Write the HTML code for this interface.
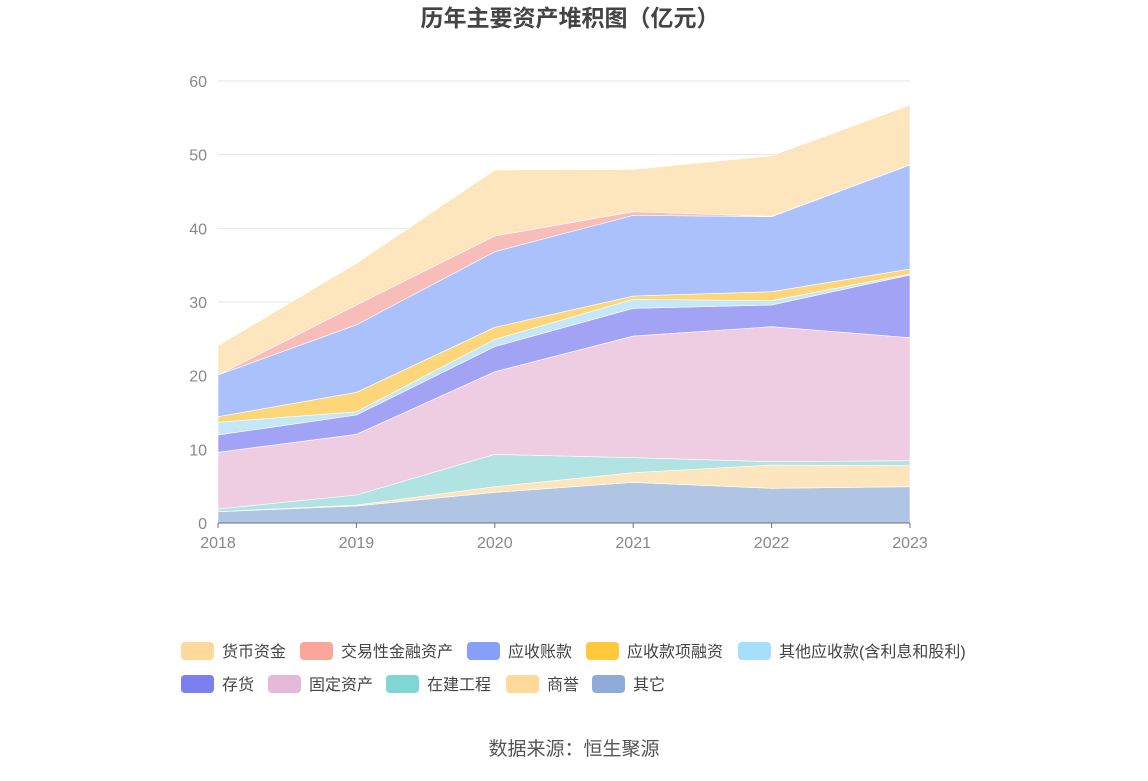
<!DOCTYPE html>
<html><head><meta charset="utf-8"><style>
body{margin:0;background:#fff;}
svg text{font-family:"Liberation Sans","Noto Sans CJK SC",sans-serif;}
</style></head><body>
<svg id="c" width="1148" height="776" xmlns="http://www.w3.org/2000/svg">
<text x="570" y="26" text-anchor="middle" font-size="23" font-weight="bold" fill="#444">历年主要资产堆积图（亿元）</text>
<g id="grid"></g><g id="areas"></g><g id="axes"></g><g id="legend"></g>
<text x="574" y="755" text-anchor="middle" font-size="19" fill="#555">数据来源：恒生聚源</text>
</svg>
<script>
const years=["2018","2019","2020","2021","2022","2023"];
const seriesNames=["其它","商誉","在建工程","固定资产","存货","其他应收款(含利息和股利)","应收款项融资","应收账款","交易性金融资产","货币资金"];
const other=[1.53,2.31,4.16,5.52,4.71,4.93];
const goodwill=[0,0.13,0.77,1.31,3.16,2.85];
const construction=[0.37,1.36,4.39,2.04,0.46,0.68];
const fixedAssets=[7.7,8.24,11.22,16.51,18.32,16.7];
const inventory=[2.35,2.62,3.4,3.76,2.95,8.5];
const otherRecv=[1.72,0.44,0.99,1.22,0.58,0.14];
const recvFinancing=[0.76,2.64,1.63,0.45,1.22,0.68];
const accountsRecv=[5.66,9.16,10.27,10.95,10.18,14.12];
const tradingAssets=[0,2.7,2.13,0.5,0.05,0.05];
const cash=[3.98,5.65,8.96,5.74,8.22,8.09];
const yTicks=[0,10,20,30,40,50,60];
const series=[other,goodwill,construction,fixedAssets,inventory,otherRecv,recvFinancing,accountsRecv,tradingAssets,cash];
const areaColors=["#b0c5e3","#fde5bd","#b0e3e2","#eecde2","#a2a3f5","#c4e8f8","#fdd67a","#aac1fc","#f9bdb9","#fde5bd"];
const NS="http://www.w3.org/2000/svg";
const X=i=>218+i*(910-218)/(years.length-1);
const Y=v=>523-v*(523-81)/60;
function mk(t,a,p){const e=document.createElementNS(NS,t);for(const k in a)e.setAttribute(k,a[k]);p.appendChild(e);return e;}
const grid=document.getElementById('grid'),axes=document.getElementById('axes'),areas=document.getElementById('areas'),legend=document.getElementById('legend');
yTicks.forEach(t=>{
 if(t>0){const l=mk('line',{x1:218,x2:910,y1:Y(t),y2:Y(t),stroke:'#e0e6f1','stroke-width':1},grid);
 
 }
 const tx=mk('text',{x:207,y:Y(t)+6,'text-anchor':'end','font-size':16,fill:'#888'},axes);tx.textContent=t;
 
 
});
let base=years.map(()=>0);
series.forEach((s,k)=>{
 const top=base.map((b,i)=>b+s[i]);
 let d='M'+years.map((_,i)=>X(i)+','+Y(top[i])).join(' L');
 for(let i=years.length-1;i>=0;i--)d+=' L'+X(i)+','+Y(base[i]);
 d+='Z';
 const p=mk('path',{d:d,fill:areaColors[k],stroke:'#fff','stroke-width':0.6},areas);
 
 
 base=top;
});
const ax=mk('line',{x1:218,x2:910,y1:523,y2:523,stroke:'#6e7079','stroke-width':1},axes);


years.forEach((y,i)=>{
 mk('line',{x1:X(i),x2:X(i),y1:523,y2:528,stroke:'#6e7079'},axes);
 const t=mk('text',{x:X(i),y:548,'text-anchor':'middle','font-size':16,fill:'#888'},axes);t.textContent=y;
 
 
});
const legNames=["货币资金","交易性金融资产","应收账款","应收款项融资","其他应收款(含利息和股利)","存货","固定资产","在建工程","商誉","其它"];
const legColors=["#ffd89c","#fba69a","#86a0f9","#ffc93a","#a6dffb","#7b7ff0","#e5b9d9","#80d6d4","#ffd99a","#8fabd8"];
const legX=[181,300,467,586,738,181,268,386,506,592];
legNames.forEach((n,i)=>{
 const y=i<5?642:675;
 const g=mk('g',{},legend);
 
 
 mk('rect',{x:legX[i],y:y,width:33,height:18,rx:4,fill:legColors[i]},g);
 const t=mk('text',{x:legX[i]+41,y:y+15,'font-size':16,fill:'#444'},g);t.textContent=n;
});
</script>
</body></html>
